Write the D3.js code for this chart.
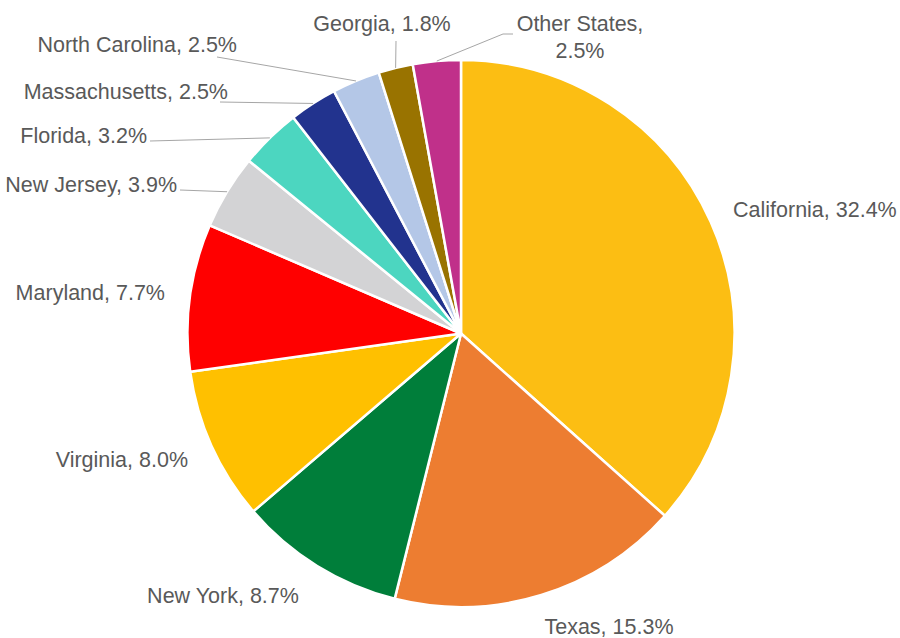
<!DOCTYPE html>
<html>
<head>
<meta charset="utf-8">
<script src="https://cdn.jsdelivr.net/npm/d3@7/dist/d3.min.js"></script>
<style>
  html, body { margin: 0; padding: 0; background: #fff; }
  svg { display: block; }
  .label { font-family: "Liberation Sans", Arial, sans-serif; font-size: 21.5px; fill: #595959; }
  .leader { fill: none; stroke: #a6a6a6; stroke-width: 1; }
</style>
</head>
<body>
<svg></svg>
<script>
// data
var states = ["California", "Texas", "New York", "Virginia", "Maryland", "New Jersey",
              "Florida", "Massachusetts", "North Carolina", "Georgia", "Other States"];
var shares = [32.4, 15.3, 8.7, 8.0, 7.7, 3.9, 3.2, 2.5, 2.5, 1.8, 2.5];
var colors = ["#FCBE13", "#ED7D31", "#007E3A", "#FFC000", "#FF0000", "#D3D3D5",
              "#4CD6C0", "#22338E", "#B4C7E7", "#997300", "#C0308A"];

// label layout (anchor point, optional leader start)
var labelLayout = {
  "California":     { x: 733, y: 217, anchor: "start" },
  "Texas":          { x: 609, y: 634, anchor: "middle" },
  "New York":       { x: 223, y: 603, anchor: "middle" },
  "Virginia":       { x: 188, y: 467, anchor: "end" },
  "Maryland":       { x: 165, y: 300, anchor: "end" },
  "New Jersey":     { x: 177, y: 192, anchor: "end", leader: [[180, 190]] },
  "Florida":        { x: 147, y: 143, anchor: "end", leader: [[150, 141]] },
  "Massachusetts":  { x: 228, y: 99,  anchor: "end", leader: [[220, 102]] },
  "North Carolina": { x: 237, y: 52,  anchor: "end", leader: [[217, 57]] },
  "Georgia":        { x: 382, y: 31,  anchor: "middle", leader: [[396, 41]] },
  "Other States":   { x: 580, y: 31,  anchor: "middle", twoLine: true, leader: [[513, 34], [503, 34]] }
};

var width = 900, height = 638;
var cx = 461, cy = 333.5, radius = 273.5;

var svg = d3.select("svg")
    .attr("width", width)
    .attr("height", height);

var rows = states.map(function(s, i) { return { name: s, value: shares[i], color: colors[i] }; });

var pie = d3.pie()
    .sort(null)
    .value(function(d) { return d.value; });

var arc = d3.arc()
    .innerRadius(0)
    .outerRadius(radius);

// point on the rim at the middle of a slice
var rim = d3.arc()
    .innerRadius(radius)
    .outerRadius(radius);

var arcs = pie(rows);

var g = svg.append("g")
    .attr("transform", "translate(" + cx + "," + cy + ")");

g.selectAll("path.slice")
    .data(arcs)
  .enter().append("path")
    .attr("class", "slice")
    .attr("d", arc)
    .attr("fill", function(d) { return d.data.color; })
    .attr("stroke", "#fff")
    .attr("stroke-width", 2.5)
    .attr("stroke-linejoin", "round");

// leader lines
svg.selectAll("path.leader")
    .data(arcs.filter(function(d) { return labelLayout[d.data.name].leader; }))
  .enter().append("path")
    .attr("class", "leader")
    .attr("d", function(d) {
      var pts = labelLayout[d.data.name].leader.slice();
      var c = rim.centroid(d);
      pts.push([c[0] + cx, c[1] + cy]);
      return d3.line()(pts);
    });

// labels
var labels = svg.selectAll("text.label")
    .data(arcs)
  .enter().append("text")
    .attr("class", "label")
    .attr("x", function(d) { return labelLayout[d.data.name].x; })
    .attr("y", function(d) { return labelLayout[d.data.name].y; })
    .attr("text-anchor", function(d) { return labelLayout[d.data.name].anchor; });

labels.each(function(d) {
  var t = d3.select(this), lay = labelLayout[d.data.name];
  var pct = d.data.value.toFixed(1) + "%";
  if (lay.twoLine) {
    t.append("tspan").attr("x", lay.x).text(d.data.name + ",");
    t.append("tspan").attr("x", lay.x).attr("dy", 27).text(pct);
  } else {
    t.text(d.data.name + ", " + pct);
  }
});
</script>
</body>
</html>
